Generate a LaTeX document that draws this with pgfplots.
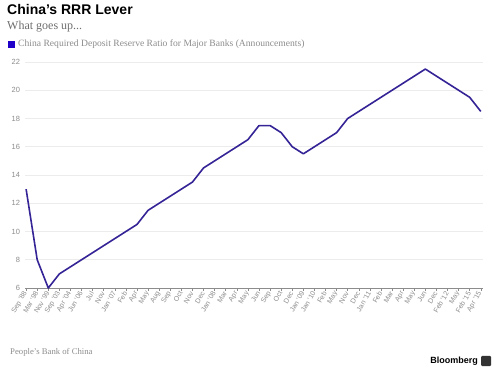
\documentclass[border=0pt]{standalone}
\usepackage{fontspec}
\setmainfont{Liberation Serif}
\setsansfont{Liberation Sans}
\usepackage{pgfplots}
\pgfplotsset{compat=1.18}
\definecolor{lineblue}{RGB}{52,36,150}
\definecolor{legblue}{RGB}{30,0,200}
\definecolor{tickgray}{RGB}{140,140,140}
\definecolor{gridgray}{RGB}{236,236,236}
\definecolor{subgray}{RGB}{110,110,110}
\begin{document}
\begin{tikzpicture}
\path[use as bounding box] (0pt,0pt) rectangle (500pt,369pt);
\node[anchor=west, inner sep=0pt, font=\sffamily\bfseries\fontsize{14}{14}\selectfont] at (7pt,359pt) {China's RRR Lever};
\node[anchor=west, inner sep=0pt, text=subgray, font=\fontsize{12}{12}\selectfont] at (7pt,342pt) {What goes up...};
\fill[legblue] (8pt,321pt) rectangle (15pt,328pt);
\node[anchor=west, inner sep=0pt, text=tickgray, font=\fontsize{9.6}{9.6}\selectfont] at (18pt,324.5pt) {China Required Deposit Reserve Ratio for Major Banks (Announcements)};
\node[anchor=west, inner sep=0pt, text=tickgray, font=\fontsize{8.7}{8.7}\selectfont] at (10pt,17pt) {People's Bank of China};
\node[anchor=east, inner sep=0pt, font=\sffamily\bfseries\fontsize{9}{9}\selectfont] at (478pt,8pt) {Bloomberg};
\fill[black!80, rounded corners=1pt] (481pt,3pt) rectangle (491pt,13pt);
\begin{axis}[
  at={(25pt,81pt)}, anchor=south west,
  scale only axis, width=458pt, height=226pt,
  xmin=-0.1, xmax=41.2, ymin=6, ymax=22,
  axis x line=bottom, axis y line=left,
  x axis line style={-, draw=tickgray},
  y axis line style={draw=none},
  ytick={6,8,...,22},
  ytick style={draw=none},
  ymajorgrids, grid style={gridgray, line width=0.6pt},
  xtick=data,
  xticklabels={Sep '88,Mar '98,Nov '99,Sep '03,Apr '04,Jun '06,Jul,Nov,Jan '07,Feb,Apr,May,Aug,Sep,Oct,Nov,Dec,Jan '08,Mar,Apr,May,Jun,Sep,Oct,Dec,Jan '09,Jan '10,Feb,May,Nov,Dec,Jan '11,Feb,Mar,Apr,May,Jun,Dec,Feb '12,May,Feb '15,Apr '15},
  xtick style={draw=tickgray, line width=0.5pt},
  xtick align=outside, major tick length=3pt,
  x tick label style={rotate=60, anchor=east, text=tickgray, font=\sffamily\fontsize{7}{7}\selectfont, inner sep=1pt},
  y tick label style={text=tickgray, font=\sffamily\fontsize{7.5}{7.5}\selectfont},
  /pgf/number format/assume math mode=true,
  clip=false,
]
\addplot[lineblue, line width=1.6pt, no marks, line join=round] coordinates {
(0,13) (1,8) (2,6) (3,7) (4,7.5) (5,8) (6,8.5) (7,9) (8,9.5) (9,10) (10,10.5)
(11,11.5) (12,12) (13,12.5) (14,13) (15,13.5) (16,14.5) (17,15) (18,15.5) (19,16)
(20,16.5) (21,17.5) (22,17.5) (23,17) (24,16) (25,15.5) (26,16) (27,16.5) (28,17)
(29,18) (30,18.5) (31,19) (32,19.5) (33,20) (34,20.5) (35,21) (36,21.5) (37,21)
(38,20.5) (39,20) (40,19.5) (41,18.5)
};
\end{axis}
\end{tikzpicture}
\end{document}
